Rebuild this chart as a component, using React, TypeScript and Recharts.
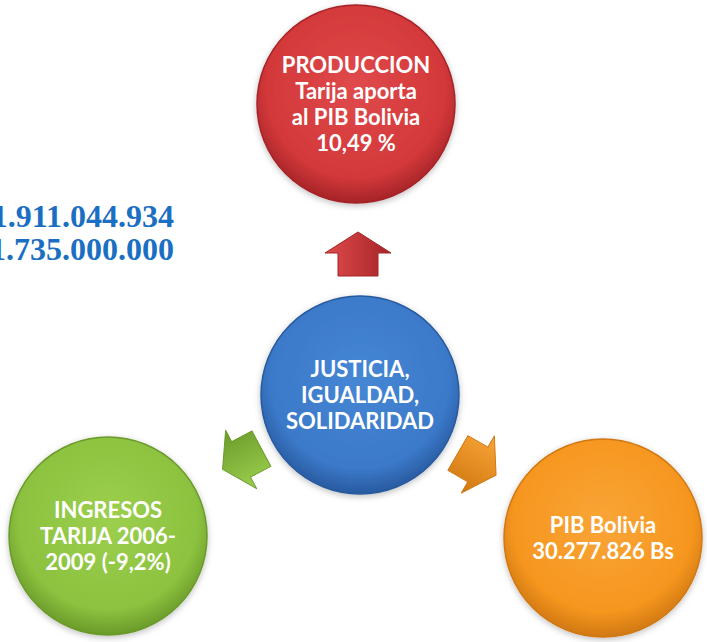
import { ScatterChart, Scatter, XAxis, YAxis } from 'recharts'

// diagram nodes (centres in diagram units, 0..707 x 0..642)
const nodeLabels = [
  ['PRODUCCION', 'Tarija aporta', 'al PIB Bolivia', '10,49 %'],
  ['JUSTICIA,', 'IGUALDAD,', 'SOLIDARIDAD'],
  ['INGRESOS', 'TARIJA 2006-', '2009 (-9,2%)'],
  ['PIB Bolivia', '30.277.826 Bs'],
]
const nodeX = [356, 360, 108, 603]
const nodeY = [104, 395, 536, 538]
const nodeKind = ['red', 'blue', 'green', 'orange']

// arrows from the centre to the outer nodes
const arrowX = [358, 242, 477]
const arrowY = [254, 459, 464]
const arrowAngle = [-90, 152, 30]
const arrowKind = ['red', 'green', 'orange']

// amounts on the left
const amounts = ['1.911.044.934', '1.735.000.000']
const amountX = [174, 174]
const amountY = [227, 260]

const palette: Record<string, { light: string; base: string; dark: string }> = {
  red: { light: '#e04a4b', base: '#d3383a', dark: '#a52428' },
  blue: { light: '#4687d4', base: '#3b79c9', dark: '#285a9f' },
  green: { light: '#9ccf4e', base: '#8cc23f', dark: '#6a9a2a' },
  orange: { light: '#f9a537', base: '#f6961f', dark: '#d07812' },
}

const nodes = nodeLabels.map((lines, i) => ({ x: nodeX[i], y: nodeY[i], lines, kind: nodeKind[i] }))
const arrows = arrowX.map((x, i) => ({ x, y: arrowY[i], angle: arrowAngle[i], kind: arrowKind[i] }))
const amountRows = amounts.map((text, i) => ({ x: amountX[i], y: amountY[i], text }))

const R = 99

function Bubble(props: any) {
  const { cx, cy, payload } = props
  const c = palette[payload.kind]
  const id = `g-${payload.kind}`
  const n = payload.lines.length
  return (
    <g>
      <defs>
        <radialGradient id={id} cx="50%" cy="42%" r="58%">
          <stop offset="0%" stopColor={c.light} />
          <stop offset="78%" stopColor={c.base} />
          <stop offset="100%" stopColor={c.dark} />
        </radialGradient>
        <filter id={`s-${payload.kind}`} x="-20%" y="-20%" width="140%" height="140%">
          <feDropShadow dx="0" dy="2" stdDeviation="3" floodColor="#000" floodOpacity="0.25" />
        </filter>
      </defs>
      <circle cx={cx} cy={cy} r={R} fill={`url(#${id})`} stroke={c.dark} strokeWidth={1.5} filter={`url(#s-${payload.kind})`} />
      <text textAnchor="middle" fill="#fff" fontFamily="Lato, 'Open Sans', sans-serif" fontWeight={700} fontSize={22}>
        {payload.lines.map((l: string, k: number) => (
          <tspan key={k} x={cx} y={cy + 8 + (k - (n - 1) / 2) * 26}>{l}</tspan>
        ))}
      </text>
    </g>
  )
}

function Arrow(props: any) {
  const { cx, cy, payload } = props
  const c = palette[payload.kind]
  const L = 44, hl = 21, sw = 20, hw = 33
  const pts = [
    [-L / 2, -sw], [L / 2 - hl, -sw], [L / 2 - hl, -hw], [L / 2, 0],
    [L / 2 - hl, hw], [L / 2 - hl, sw], [-L / 2, sw],
  ].map((p) => p.join(',')).join(' ')
  const id = `a-${payload.kind}`
  return (
    <g transform={`translate(${cx},${cy}) rotate(${payload.angle})`}>
      <defs>
        <linearGradient id={id} x1="0" y1="0" x2="0" y2="1">
          <stop offset="0%" stopColor={c.light} />
          <stop offset="100%" stopColor={c.dark} />
        </linearGradient>
      </defs>
      <polygon points={pts} fill={`url(#${id})`} stroke={c.dark} strokeWidth={1} strokeLinejoin="round" />
    </g>
  )
}

function Amount(props: any) {
  const { cx, cy, payload } = props
  return (
    <text x={cx} y={cy} textAnchor="end" fill="#1b6fc2" fontFamily="'Liberation Serif', 'DejaVu Serif', serif" fontWeight={700} fontSize={32}>
      {payload.text}
    </text>
  )
}

export default function App() {
  return (
    <div style={{ position: 'absolute', left: 0, top: 0, background: '#fff' }}>
      <ScatterChart width={707} height={642} margin={{ top: 0, right: 0, bottom: 0, left: 0 }}>
        <XAxis type="number" dataKey="x" domain={[0, 707]} hide allowDataOverflow />
        <YAxis type="number" dataKey="y" domain={[0, 642]} reversed hide allowDataOverflow />
        <Scatter data={amountRows} shape={Amount} isAnimationActive={false} />
        <Scatter data={arrows} shape={Arrow} isAnimationActive={false} />
        <Scatter data={nodes} shape={Bubble} isAnimationActive={false} />
      </ScatterChart>
    </div>
  )
}
